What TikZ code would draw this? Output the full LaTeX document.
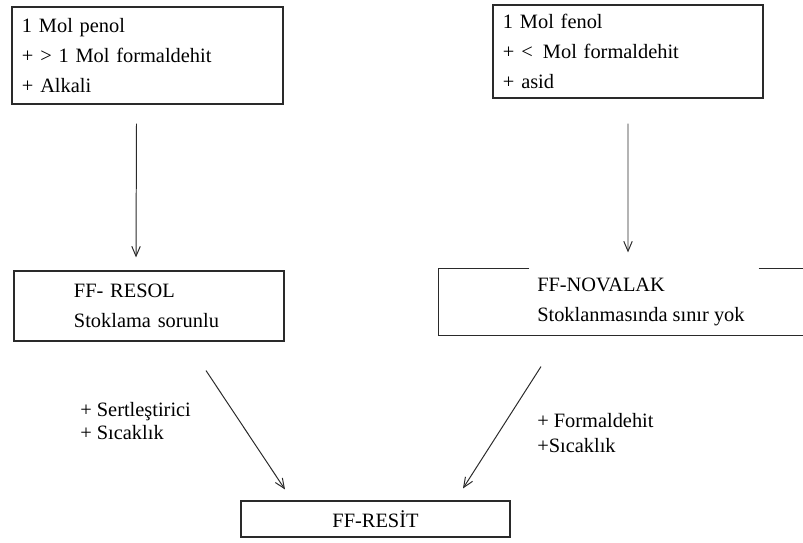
\documentclass[tikz,border=0pt]{standalone}
\usepackage{fontspec}
\setmainfont{Liberation Serif}
\usepackage{tikz}
\usetikzlibrary{arrows.meta, positioning, calc}
\definecolor{linegray}{HTML}{2A2A2A}

\begin{document}
\begin{tikzpicture}[
    x=0.025cm, y=-0.025cm,
    every node/.style={font=\fontsize{14.5}{21.5}\selectfont, text=black},
    chembox/.style={rectangle, draw=linegray, line width=0.8pt, align=left, inner sep=0pt},
    notelabel/.style={anchor=west, align=left, inner sep=0pt},
    arr/.style={-{Straight Barb[length=7pt, width=6pt]}, draw=linegray, line width=0.7pt},
]
    \useasboundingbox (0,0) rectangle (803,543);

    % ── Starting mixtures ──
    \node[chembox, minimum width=6.775cm, minimum height=2.425cm, text width=6.275cm] (penol) at (147.5,55.5)
        {1 Mol penol\\+ > 1 Mol formaldehit\\+ Alkali};
    \node[chembox, minimum width=6.75cm, minimum height=2.325cm, text width=6.25cm] (fenol) at (628,51.5)
        {1 Mol fenol\\+ < \,Mol formaldehit\\+ asid};

    % ── Intermediate resins ──
    \node[chembox, minimum width=6.75cm, minimum height=1.75cm, text width=3.75cm] (resol) at (149,306)
        {FF- RESOL\\Stoklama sorunlu};

    \node[chembox, draw=none, minimum width=9.275cm, minimum height=1.65cm] (novalak) at (624.5,302) {};
    \node[notelabel] (novtext) at (537,302) {FF-NOVALAK\\Stoklanmasında sınır yok};
    \draw[linegray, line width=0.8pt] ([shift={(91,0)}]novalak.north west) -- (novalak.north west)
        -- (novalak.south west) -- (novalak.south east);
    \draw[linegray, line width=0.8pt] ([shift={(-52,0)}]novalak.north east) -- (novalak.north east);

    % ── Final product ──
    \node[chembox, align=center, minimum width=6.725cm, minimum height=0.9cm] (resit) at (375.5,519) {FF-RESİT};

    % Arrows: mixtures to resins
    \draw[arr] ([shift={(-11,19)}]penol.south) -- ([shift={(-13,-13)}]resol.north);
    \draw[arr] ([shift={(0,25)}]fenol.south) -- ([shift={(3.5,-16)}]novalak.north);

    % Arrows: resins to resit
    \draw[arr] ([shift={(57,29)}]resol.south) -- ([shift={(-90.5,-11)}]resit.north);
    \draw[arr] ([shift={(-83.5,31)}]novalak.south) -- ([shift={(87.5,-12)}]resit.north);

    % Conditions
    \node[notelabel, font=\fontsize{14.5}{16.5}\selectfont] (sertlabel) at (80,421) {+ Sertleştirici\\+ Sıcaklık};
    \node[notelabel, font=\fontsize{14.5}{18}\selectfont] (formlabel) at (537,433) {+ Formaldehit\\+Sıcaklık};

\end{tikzpicture}
\end{document}
